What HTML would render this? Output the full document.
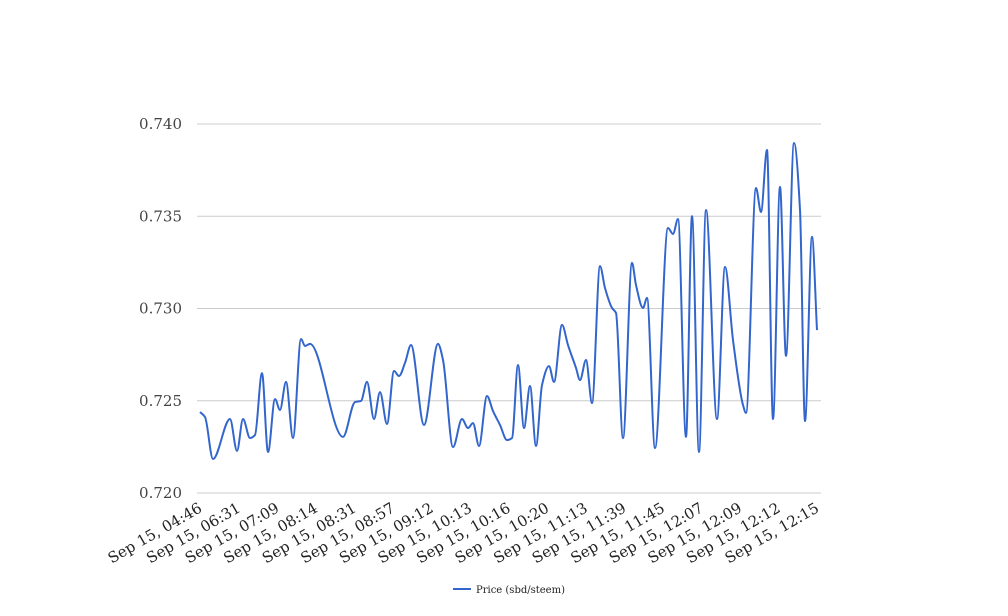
<!DOCTYPE html>
<html><head><meta charset="utf-8"><style>
html,body{margin:0;padding:0;background:#fff;}
svg{display:block;font-family:"DejaVu Serif","Liberation Serif",serif;}
</style></head><body>
<svg id="chart" width="1008" height="616" viewBox="0 0 1008 616" xmlns="http://www.w3.org/2000/svg">
<g id="grid"></g>
<g id="yaxis"></g>
<g id="xaxis"></g>
<path id="line" fill="none" stroke="#3366cc" stroke-width="2"/>
<g>
<line x1="453" y1="589" x2="471" y2="589" stroke="#3366cc" stroke-width="2"/>
<text x="476" y="593" font-size="10" fill="#222">Price (sbd/steem)</text>
</g>
</svg>
<script>
const xLabels=["Sep 15, 04:46","Sep 15, 06:31","Sep 15, 07:09","Sep 15, 08:14","Sep 15, 08:31","Sep 15, 08:57","Sep 15, 09:12","Sep 15, 10:13","Sep 15, 10:16","Sep 15, 10:20","Sep 15, 11:13","Sep 15, 11:39","Sep 15, 11:45","Sep 15, 12:07","Sep 15, 12:09","Sep 15, 12:12","Sep 15, 12:15"];
const yTicks=[0.720,0.725,0.730,0.735,0.740];
const sampleT=[0,5,13,30,37,43,50,55,62,68,75,80,86,93,101,105,110,143,155,161,167,174,180,187,194,199,205,211,224,238,243,253,262,268,273,279,287,293,300,307,312,318,324,330,336,342,349,354,362,368,376,380,386,392,400,405,412,416,423,432,436,443,447,455,468,473,478,486,492,499,506,517,525,533,543,546,556,561,567,573,580,586,594,600,605,612,617];
const prices=[0.72439,0.72412,0.72184,0.72401,0.72228,0.72401,0.72298,0.72314,0.7265,0.72222,0.72509,0.7245,0.72602,0.72298,0.72835,0.72797,0.72808,0.72304,0.72493,0.72499,0.72602,0.72401,0.72547,0.72374,0.72661,0.72634,0.72705,0.72802,0.72369,0.72808,0.72721,0.72249,0.72401,0.72352,0.72379,0.72255,0.72526,0.72444,0.72369,0.72287,0.72298,0.72694,0.72352,0.7258,0.72255,0.72585,0.72688,0.72602,0.72911,0.72802,0.72678,0.72612,0.72721,0.72488,0.7323,0.73111,0.73003,0.72976,0.72298,0.73247,0.73127,0.73003,0.73057,0.72244,0.73436,0.73404,0.73485,0.72304,0.73501,0.72222,0.73534,0.72401,0.73225,0.72829,0.72477,0.72434,0.73653,0.73523,0.73859,0.72401,0.73659,0.72743,0.73897,0.73534,0.7239,0.73388,0.72883];

const NS="http://www.w3.org/2000/svg";
const X0=200,X1=817,Y0=493,Y1=124,VMIN=0.720,VMAX=0.740;
const tMax=sampleT[sampleT.length-1];
function xs(t){return X0+(t/tMax)*(X1-X0);}
function ys(v){return Y0-(v-VMIN)/(VMAX-VMIN)*(Y0-Y1);}
const grid=document.getElementById('grid'),ya=document.getElementById('yaxis'),xa=document.getElementById('xaxis');
yTicks.forEach(v=>{
 const l=document.createElementNS(NS,'line');
 
 
 l.setAttribute('x1',197);l.setAttribute('x2',821);l.setAttribute('y1',ys(v));l.setAttribute('y2',ys(v));
 l.setAttribute('stroke','#cccccc');l.setAttribute('stroke-width','1');
 grid.appendChild(l);
 const t=document.createElementNS(NS,'text');
 
 
 t.setAttribute('x',182);t.setAttribute('y',ys(v)+5);t.setAttribute('text-anchor','end');
 t.setAttribute('font-size','15');t.setAttribute('fill','#444');
 t.textContent=v.toFixed(3);ya.appendChild(t);
});
xLabels.forEach((s,i)=>{
 const x=X0+i*(X1-X0)/(xLabels.length-1);
 const t=document.createElementNS(NS,'text');
 
 
 t.setAttribute('text-anchor','end');t.setAttribute('font-size','15');t.setAttribute('fill','#222');
 t.setAttribute('transform','translate('+(x+3)+',511) rotate(-30)');
 t.textContent=s;xa.appendChild(t);
});
// monotone cubic path
const P=sampleT.map((t,i)=>[xs(t),ys(prices[i])]);
const n=P.length,m=[];
for(let i=0;i<n;i++){
 if(i===0||i===n-1){const j=i===0?1:n-1;m.push((P[j][1]-P[j-1][1])/(P[j][0]-P[j-1][0]));continue;}
 const d0=(P[i][1]-P[i-1][1])/(P[i][0]-P[i-1][0]),d1=(P[i+1][1]-P[i][1])/(P[i+1][0]-P[i][0]);
 if(d0*d1<=0)m.push(0);else{const h0=P[i][0]-P[i-1][0],h1=P[i+1][0]-P[i][0];m.push(3*(h0+h1)/((2*h1+h0)/d0+(h1+2*h0)/d1));}
}
let d='M'+P[0][0]+','+P[0][1];
for(let i=0;i<n-1;i++){const h=(P[i+1][0]-P[i][0])/3;
 d+=' C'+(P[i][0]+h)+','+(P[i][1]+m[i]*h)+' '+(P[i+1][0]-h)+','+(P[i+1][1]-m[i+1]*h)+' '+P[i+1][0]+','+P[i+1][1];}
document.getElementById('line').setAttribute('d',d);
</script>
</body></html>
